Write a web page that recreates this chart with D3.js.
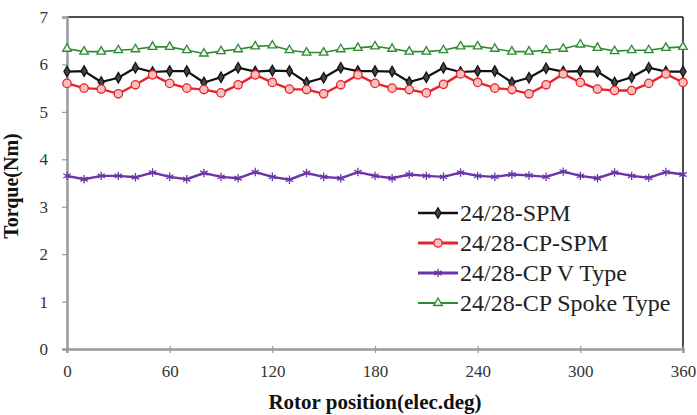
<!DOCTYPE html>
<html>
<head>
<meta charset="utf-8">
<script src="https://cdn.jsdelivr.net/npm/d3@7"></script>
<style>
  body { margin: 0; background: #fff; }
  svg { display: block; }
  text { font-family: "Liberation Serif", "Times New Roman", "DejaVu Serif", serif; }
</style>
</head>
<body>
<div id="chart"></div>
<script>
// rotor position in electrical degrees, one point every 10 deg
var positions = d3.range(0, 361, 10);

var spmTorque = [5.85, 5.86, 5.63, 5.72, 5.93, 5.84, 5.86, 5.86, 5.62, 5.73, 5.93, 5.85, 5.87,
    5.86, 5.62, 5.72, 5.93, 5.86, 5.86, 5.85, 5.63, 5.73, 5.93, 5.84, 5.86, 5.86, 5.62,
    5.72, 5.92, 5.85, 5.86, 5.85, 5.62, 5.73, 5.93, 5.85, 5.85];

var cpSpmTorque = [5.60, 5.50, 5.48, 5.38, 5.57, 5.78, 5.60, 5.50, 5.47, 5.40, 5.57, 5.78, 5.62,
    5.48, 5.47, 5.38, 5.57, 5.78, 5.60, 5.50, 5.47, 5.40, 5.58, 5.80, 5.62, 5.50, 5.47,
    5.38, 5.57, 5.80, 5.62, 5.48, 5.45, 5.45, 5.60, 5.80, 5.62];

var vTypeTorque = [3.65, 3.58, 3.65, 3.65, 3.62, 3.72, 3.63, 3.58, 3.71, 3.63, 3.60, 3.73, 3.63,
    3.57, 3.71, 3.63, 3.60, 3.73, 3.65, 3.60, 3.68, 3.65, 3.63, 3.72, 3.65, 3.63, 3.68,
    3.66, 3.63, 3.74, 3.65, 3.60, 3.72, 3.65, 3.61, 3.73, 3.68];

var spokeTorque = [6.33, 6.27, 6.27, 6.30, 6.32, 6.37, 6.37, 6.30, 6.23, 6.28, 6.32, 6.38, 6.40,
    6.30, 6.25, 6.25, 6.32, 6.35, 6.38, 6.33, 6.27, 6.27, 6.30, 6.38, 6.38, 6.33, 6.27,
    6.27, 6.30, 6.33, 6.42, 6.35, 6.28, 6.30, 6.30, 6.35, 6.37];

var seriesNames = ["24/28-SPM", "24/28-CP-SPM", "24/28-CP V Type", "24/28-CP Spoke Type"];
var xTicks = [0, 60, 120, 180, 240, 300, 360];
var yTicks = [0, 1, 2, 3, 4, 5, 6, 7];

var series = [
    { name: seriesNames[0], values: spmTorque, color: "#111111", symbol: d3.symbolDiamond, size: 32, fill: "#444444", width: 2.2 },
    { name: seriesNames[1], values: cpSpmTorque, color: "#e8232b", symbol: d3.symbolCircle, size: 55, fill: "#f7c0c0", width: 2.4 },
    { name: seriesNames[2], values: vTypeTorque, color: "#6a35a8", symbol: d3.symbolAsterisk, size: 50, fill: "none", width: 2.4 },
    { name: seriesNames[3], values: spokeTorque, color: "#2f8a35", symbol: d3.symbolTriangle, size: 32, fill: "#f0f8ec", width: 1.6 }
];

var svgWidth = 697, svgHeight = 415;
var margin = { top: 17, right: 14, bottom: 66, left: 67 };
var width = svgWidth - margin.left - margin.right;
var height = svgHeight - margin.top - margin.bottom;

var svg = d3.select("#chart").append("svg")
    .attr("width", svgWidth)
    .attr("height", svgHeight);

var chartGroup = svg.append("g")
    .attr("transform", `translate(${margin.left}, ${margin.top})`);

var xScale = d3.scaleLinear().domain([0, 360]).range([0, width]);
var yScale = d3.scaleLinear().domain([0, 7]).range([height, 0]);

// frame: top and right edges are black
chartGroup.append("line")
    .attr("x1", 0).attr("x2", width).attr("y1", 0).attr("y2", 0)
    .attr("stroke", "#111").attr("stroke-width", 1.5);
chartGroup.append("line")
    .attr("x1", width).attr("x2", width).attr("y1", 0).attr("y2", height)
    .attr("stroke", "#111").attr("stroke-width", 1.5);

// axes
var yAxis = chartGroup.append("g")
    .call(d3.axisLeft(yScale).tickValues(yTicks).tickSize(5).tickPadding(14).tickFormat(d3.format("d")));
var xAxis = chartGroup.append("g")
    .attr("transform", `translate(0, ${height})`)
    .call(d3.axisBottom(xScale).tickValues(xTicks).tickSize(4).tickPadding(12));

[xAxis, yAxis].forEach(function(ax) {
    ax.select(".domain").attr("stroke", "#9a9a9a").attr("stroke-width", 2.5);
    ax.selectAll(".tick line").attr("stroke", "#9a9a9a").attr("stroke-width", 1.2);
    ax.selectAll(".tick text")
        .attr("fill", "#333")
        .attr("font-family", null)
        .attr("font-size", "17px");
});
xAxis.selectAll(".tick line").attr("y1", -3);

// lines + markers
var line = d3.line()
    .x(function(d, i) { return xScale(positions[i]); })
    .y(function(d) { return yScale(d); });

series.forEach(function(s) {
    chartGroup.append("path")
        .datum(s.values)
        .attr("fill", "none")
        .attr("stroke", s.color)
        .attr("stroke-width", s.width)
        .attr("d", line);

    chartGroup.append("g")
        .selectAll("path")
        .data(s.values)
        .enter()
        .append("path")
        .attr("transform", function(d, i) { return `translate(${xScale(positions[i])}, ${yScale(d)})`; })
        .attr("d", d3.symbol().type(s.symbol).size(s.size))
        .attr("fill", s.fill)
        .attr("stroke", s.color)
        .attr("stroke-width", 1.3);
});

// legend
var legend = chartGroup.append("g")
    .attr("transform", `translate(${418 - margin.left}, ${213 - margin.top})`);

series.forEach(function(s, i) {
    var row = legend.append("g").attr("transform", `translate(0, ${i * 30})`);
    row.append("line")
        .attr("x1", 0).attr("x2", 40)
        .attr("stroke", s.color).attr("stroke-width", s.width + 0.5);
    row.append("path")
        .attr("transform", "translate(20, 0)")
        .attr("d", d3.symbol().type(s.symbol).size(s.size))
        .attr("fill", s.fill)
        .attr("stroke", s.color)
        .attr("stroke-width", 1.3);
    row.append("text")
        .attr("x", 42)
        .attr("dy", "0.35em")
        .attr("fill", "#222")
        .style("font-size", "24px")
        .text(s.name);
});

// axis titles
svg.append("text")
    .attr("x", margin.left + width / 2)
    .attr("y", 409)
    .attr("text-anchor", "middle")
    .attr("fill", "#111")
    .style("font-size", "21px")
    .style("font-weight", "bold")
    .text("Rotor position(elec.deg)");

svg.append("text")
    .attr("transform", "translate(18, 186) rotate(-90)")
    .attr("text-anchor", "middle")
    .attr("fill", "#111")
    .style("font-size", "20px")
    .style("font-weight", "bold")
    .text("Torque(Nm)");
</script>
</body>
</html>
